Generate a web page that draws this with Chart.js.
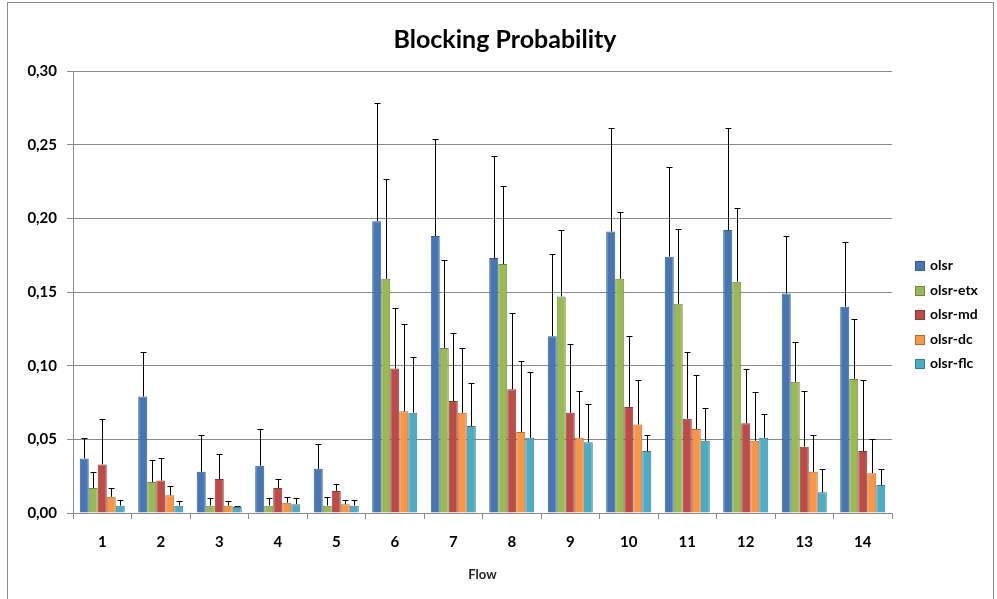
<!DOCTYPE html>
<html>
<head>
<meta charset="utf-8">
<script src="https://cdn.jsdelivr.net/npm/chart.js@4.4.0/dist/chart.umd.min.js"></script>
<style>
    body { margin: 0; background: #fff; }
    #box { position: relative; width: 997px; height: 599px; overflow: hidden; }
    #frame { position: absolute; left: 7px; top: 2px; width: 985px; height: 640px; border: 1px solid #8e8e8e; }
    #titulo { position: absolute; left: 0; top: 23px; width: 1010px; text-align: center; font-family: Lato, sans-serif; font-weight: bold; font-size: 25px; line-height: 30px; color: #000; }
    #legenda { position: absolute; left: 915px; top: 253px; font-family: Lato, sans-serif; font-weight: bold; font-size: 14px; color: #000; }
    #legenda div { height: 24.6px; line-height: 24px; white-space: nowrap; }
    #legenda span { display: inline-block; width: 8px; height: 8px; margin-right: 5px; vertical-align: -1px; border: 1px solid; }
</style>
</head>
<body>
<div id="box">
    <div id="frame"></div>
    <canvas id="chart1" width="997" height="599"></canvas>
    <div id="titulo">Blocking Probability</div>
    <div id="legenda"></div>
</div>
<script>
const fluxos = ['1', '2', '3', '4', '5', '6', '7', '8', '9', '10', '11', '12', '13', '14'];
const nomes = ['olsr', 'olsr-etx', 'olsr-md', 'olsr-dc', 'olsr-flc'];

// medias
const olsr = [0.037, 0.079, 0.028, 0.032, 0.030, 0.198, 0.188, 0.173, 0.120, 0.191, 0.174, 0.192, 0.149, 0.140];
const olsr_etx = [0.017, 0.021, 0.005, 0.005, 0.005, 0.159, 0.112, 0.169, 0.147, 0.159, 0.142, 0.157, 0.089, 0.091];
const olsr_md = [0.033, 0.022, 0.023, 0.017, 0.015, 0.098, 0.076, 0.084, 0.068, 0.072, 0.064, 0.061, 0.045, 0.042];
const olsr_dc = [0.011, 0.012, 0.005, 0.007, 0.006, 0.069, 0.068, 0.055, 0.051, 0.060, 0.057, 0.049, 0.028, 0.027];
const olsr_flc = [0.005, 0.005, 0.004, 0.006, 0.005, 0.068, 0.059, 0.051, 0.048, 0.042, 0.049, 0.051, 0.014, 0.019];

// barras de erro (so para cima)
const erro_olsr = [0.014, 0.030, 0.025, 0.025, 0.017, 0.080, 0.066, 0.069, 0.056, 0.070, 0.061, 0.069, 0.039, 0.044];
const erro_etx = [0.011, 0.015, 0.005, 0.005, 0.006, 0.068, 0.060, 0.053, 0.045, 0.045, 0.051, 0.050, 0.027, 0.041];
const erro_md = [0.031, 0.015, 0.017, 0.006, 0.005, 0.041, 0.046, 0.052, 0.047, 0.048, 0.045, 0.037, 0.038, 0.048];
const erro_dc = [0.006, 0.006, 0.003, 0.004, 0.003, 0.059, 0.044, 0.048, 0.032, 0.030, 0.037, 0.033, 0.025, 0.023];
const erro_flc = [0.004, 0.003, 0.001, 0.004, 0.004, 0.038, 0.029, 0.045, 0.026, 0.011, 0.022, 0.016, 0.016, 0.011];

const cores = ['#4676B6', '#98B954', '#BE4B48', '#F79646', '#4BACC6'];
const bordas = ['#385D8A', '#71893F', '#8C3836', '#B66D31', '#357D91'];

const valores = [olsr, olsr_etx, olsr_md, olsr_dc, olsr_flc];
const erros = [erro_olsr, erro_etx, erro_md, erro_dc, erro_flc];

// desenha as barras de erro usando a escala y
const barrasErro = {
    id: 'barrasErro',
    afterDatasetsDraw(chart) {
        const ctx = chart.ctx;
        const y = chart.scales.y;
        ctx.save();
        ctx.strokeStyle = '#000';
        ctx.lineWidth = 1;
        chart.data.datasets.forEach(function (ds, i) {
            const meta = chart.getDatasetMeta(i);
            meta.data.forEach(function (bar, j) {
                const topo = Math.round(y.getPixelForValue(ds.data[j] + ds.erro[j])) + 0.5;
                const x = Math.round(bar.x) + 0.5;
                ctx.beginPath();
                ctx.moveTo(x, bar.y);
                ctx.lineTo(x, topo);
                ctx.moveTo(x - 3, topo);
                ctx.lineTo(x + 3, topo);
                ctx.stroke();
            });
        });
        ctx.restore();
    }
};

plotarBarras();
montarLegenda();

function plotarBarras() {
    const datasets = [];
    for (let i = 0; i < nomes.length; i++) {
        datasets.push({
            label: nomes[i],
            data: valores[i],
            erro: erros[i],
            backgroundColor: cores[i],
            borderColor: bordas[i],
            borderWidth: 1
        });
    }

    new Chart(document.getElementById("chart1"), {
        type: 'bar',
        data: {
            labels: fluxos,
            datasets: datasets
        },
        options: {
            responsive: false,
            animation: false,
            categoryPercentage: 0.77,
            barPercentage: 1.0,
            layout: {
                padding: { left: 13, right: 105, top: 71, bottom: 6 }
            },
            plugins: {
                legend: { display: false },
                tooltip: { enabled: false },
                title: { display: false }
            },
            scales: {
                x: {
                    afterFit: function (scale) { scale.height = 80; },
                    grid: {
                        offset: true,
                        drawOnChartArea: false,
                        drawTicks: true,
                        tickLength: 6,
                        color: '#8a8a8a'
                    },
                    border: { color: '#8a8a8a' },
                    ticks: {
                        color: '#000',
                        padding: 14,
                        maxRotation: 0,
                        font: { family: 'Lato', size: 15, weight: 'bold' }
                    },
                    title: {
                        display: true,
                        text: 'Flow',
                        color: '#222',
                        font: { family: 'Lato', size: 13, weight: 'bold' },
                        padding: { top: 0, bottom: 10 }
                    }
                },
                y: {
                    min: 0,
                    max: 0.3,
                    afterFit: function (scale) { scale.width = 60; },
                    grid: {
                        color: '#8a8a8a',
                        tickLength: 6
                    },
                    border: { color: '#8a8a8a' },
                    ticks: {
                        stepSize: 0.05,
                        color: '#000',
                        padding: 10,
                        font: { family: 'Lato', size: 15, weight: 'bold' },
                        callback: function (v) { return v.toFixed(2).replace('.', ','); }
                    }
                }
            }
        },
        plugins: [barrasErro]
    });
}

function montarLegenda() {
    const caixa = document.getElementById('legenda');
    let html = '';
    for (let i = 0; i < nomes.length; i++) {
        html += `<div><span style="background:${cores[i]};border-color:${bordas[i]}"></span>${nomes[i]}</div>`;
    }
    caixa.innerHTML = html;
}
</script>
</body>
</html>
